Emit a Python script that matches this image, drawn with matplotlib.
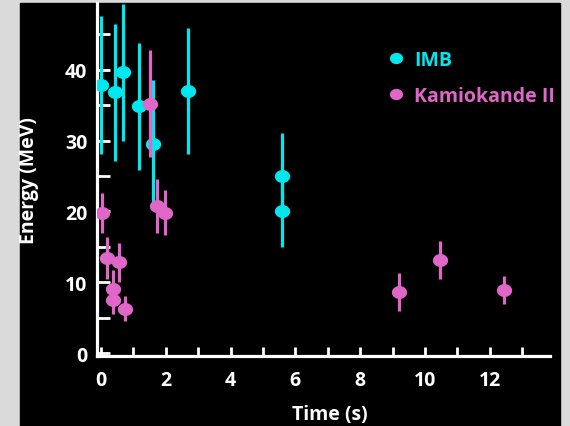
import matplotlib
matplotlib.use("Agg")
import matplotlib.pyplot as plt
import numpy as np
from matplotlib.patches import Rectangle
from matplotlib.path import Path
from matplotlib.lines import Line2D

# SN1987A neutrino events
imb_time = [0.0, 0.45, 0.69, 1.18, 1.6, 2.7, 5.6, 5.6]
imb_energy = [37.8, 36.8, 39.6, 34.8, 29.5, 37.0, 25.0, 20.0]
imb_err = [9.7, 9.7, 9.7, 8.9, 9.0, 8.9, 6.0, 5.0]

kam_time = [0.04, 0.18, 0.38, 0.38, 0.57, 0.75, 1.51, 1.74, 1.98, 9.2, 10.45, 12.45]
kam_energy = [19.8, 13.4, 9.1, 7.5, 12.8, 6.3, 35.2, 20.8, 19.8, 8.6, 13.1, 8.9]
kam_err = [2.8, 3.0, 2.7, 2.0, 2.8, 1.7, 7.5, 3.8, 3.2, 2.7, 2.7, 2.0]

x_major = [0, 2, 4, 6, 8, 10, 12]
y_major = [0, 10, 20, 30, 40]

CYAN = "#00E8EE"
PINK = "#E066C8"
BG = "#DADADA"

plt.rcParams["font.family"] = ["Open Sans", "DejaVu Sans"]
plt.rcParams["font.weight"] = "bold"

# slightly wide ellipse for the markers
th = np.linspace(0, 2 * np.pi, 41)
ellipse = Path(np.column_stack([1.2 * np.cos(th), np.sin(th)]), closed=True)

fig = plt.figure(figsize=(5.7, 4.27), dpi=100, facecolor=BG)
fig.patches.append(Rectangle((20 / 570, 0), 540 / 570, 423 / 427,
                             transform=fig.transFigure, color="black", zorder=-5))

ax = fig.add_axes([97 / 570, 70 / 427, 453 / 570, 353 / 427])
ax.set_facecolor("black")

ax.errorbar(imb_time, imb_energy, yerr=imb_err, fmt="none", ecolor=CYAN,
            elinewidth=2.3, capsize=0, zorder=2)
ax.plot(imb_time, imb_energy, ls="none", marker=ellipse, ms=10, color=CYAN, zorder=3)
ax.errorbar(kam_time, kam_energy, yerr=kam_err, fmt="none", ecolor=PINK,
            elinewidth=2.3, capsize=0, zorder=4)
ax.plot(kam_time, kam_energy, ls="none", marker=ellipse, ms=10, color=PINK, zorder=5)

ax.set_xlim(-0.12, 13.86)
ax.set_ylim(-0.4, 49.4)

for side in ["top", "right"]:
    ax.spines[side].set_visible(False)
for side in ["left", "bottom"]:
    ax.spines[side].set_color("white")
    ax.spines[side].set_linewidth(2.3)

ax.set_xticks(x_major)
ax.set_xticks(np.arange(1, 14, 2), minor=True)
ax.set_yticks(y_major)
ax.set_yticks(np.arange(5, 50, 10), minor=True)
ax.tick_params(axis="x", which="both", direction="in", length=6.5, width=2.0,
               color="white", labelcolor="white", labelsize=14, pad=10)
ax.tick_params(axis="y", which="both", direction="in", length=9, width=2.0,
               color="white", labelcolor="white", labelsize=14, pad=7)

ax.set_xlabel("Time (s)", color="white", fontsize=14, fontweight="bold")
ax.xaxis.set_label_coords(0.514, -0.136)
ax.set_ylabel("Energy (MeV)", color="white", fontsize=14, fontweight="bold", labelpad=19)

handles = [
    Line2D([], [], ls="none", marker=ellipse, ms=8.5, color=CYAN),
    Line2D([], [], ls="none", marker=ellipse, ms=8.5, color=PINK),
]
leg = ax.legend(handles, ["IMB", "Kamiokande II"], loc="upper left",
                bbox_to_anchor=(0.605, 0.916), frameon=False, handlelength=0.8,
                handletextpad=0.5, labelspacing=0.8,
                prop={"size": 14, "weight": "bold"})
for txt, col in zip(leg.get_texts(), [CYAN, PINK]):
    txt.set_color(col)

fig.savefig("out.png", dpi=100, facecolor=BG)
